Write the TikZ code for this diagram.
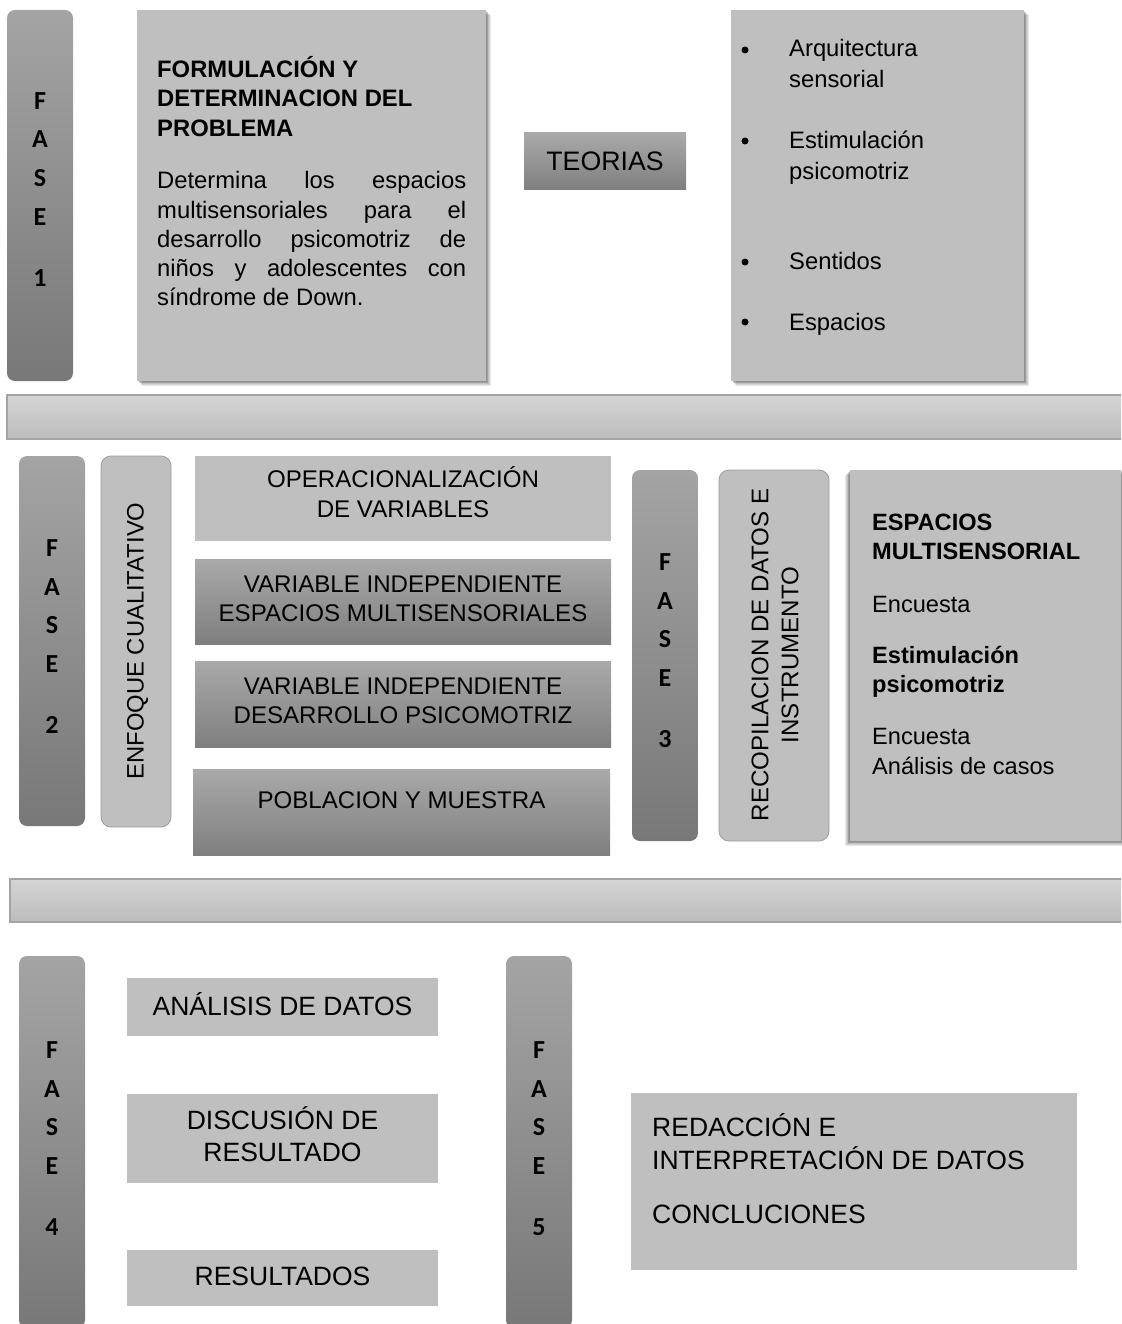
\documentclass[tikz,border=0pt]{standalone}
\usepackage{fontspec}
\setmainfont{Liberation Sans}
\newfontfamily\calfont{Carlito}[BoldFont={Carlito Bold}]
\usetikzlibrary{backgrounds}
\definecolor{bartop}{HTML}{A4A4A4}
\definecolor{barbot}{HTML}{787878}
\definecolor{boxgray}{HTML}{BFBFBF}
\definecolor{gradtop}{HTML}{A9A9A9}
\definecolor{gradbot}{HTML}{7F7F7F}
\definecolor{bandtop}{HTML}{D5D5D5}
\definecolor{bandbot}{HTML}{BCBCBC}
\definecolor{bandline}{HTML}{A3A3A3}
\definecolor{softline}{HTML}{9C9C9C}
\tikzset{
  shp/.style={anchor=north west, inner sep=0pt, outer sep=0pt},
  phasebar/.style={shp, rounded corners=8pt, top color=bartop, bottom color=barbot, draw=none},
  flatbox/.style={shp, fill=boxgray},
  gradbox/.style={shp, top color=gradtop, bottom color=gradbot},
  band/.style={shp, top color=bandtop, bottom color=bandbot, draw=bandline, line width=1.2pt},
  softbox/.style={shp, rounded corners=10pt, fill=boxgray, draw=softline, line width=0.8pt},
  shadowlayer/.style={fill=black, opacity=0.09},
  faseltr/.style={font=\calfont\bfseries\fontsize{26}{26}\selectfont, anchor=base, inner sep=0pt},
  tA/.style={font=\fontsize{23.8}{29.5}\selectfont, anchor=base west, inner sep=0pt},
  tAb/.style={tA, font=\fontsize{23.8}{29.5}\selectfont\bfseries},
  tE/.style={tA, font=\fontsize{23.6}{29}\selectfont},
  tEb/.style={tA, font=\fontsize{23.6}{29}\selectfont\bfseries},
  tC/.style={font=\fontsize{24.1}{30}\selectfont, anchor=base, inner sep=0pt},
  tD/.style={font=\fontsize{26.5}{32}\selectfont, anchor=base, inner sep=0pt},
  tDl/.style={tD, anchor=base west},
  bul/.style={circle, fill=black, minimum size=7pt, inner sep=0pt},
}
\newcommand\mkphase[6]{%
  \node[phasebar, minimum width=66pt, minimum height=#4pt] (#1) at (#2,#3) {};
  \foreach \L [count=\i from 0] in {F,A,S,E}
    \node[faseltr] (#1-\i) at ({#2+33},{#5+8.4+38.6*\i}) {\L};
  \node[faseltr] (#1-n) at ({#2+33},{#5+8.4+38.6*3+61}) {#6};
}
% soft shadow behind a node: #1 node name, #2 x direction (+1 right, -1 left)
\newcommand\softshadow[2]{%
  \begin{scope}[on background layer]
    \foreach \k in {1,...,6}
      \fill[shadowlayer] ([shift={({#2*\k*0.8},{\k*0.8})}]#1.north west) rectangle ([shift={({#2*\k*0.8},{\k*0.8})}]#1.south east);
  \end{scope}
}
\begin{document}
\begin{tikzpicture}[x=1pt, y=-1pt]
\useasboundingbox (0,0) rectangle (1121,1324);
\clip (0,0) rectangle (1121,1324);

% ---------- FASE 1 ----------
\mkphase{fase1}{7}{10}{371}{101}{1}
\node[flatbox, minimum width=349pt, minimum height=371pt] (form) at (137,10) {};
\softshadow{form}{1}
\node[tAb] (form-t1) at (157,77.5) {FORMULACIÓN Y};
\node[tAb] (form-t2) at (157,106.5) {DETERMINACION DEL};
\node[tAb] (form-t3) at (157,136.5) {PROBLEMA};
\node[tA] (form-b1) at (157,188.5) {\makebox[309pt][s]{Determina los espacios}};
\node[tA] (form-b2) at (157,218.5) {\makebox[309pt][s]{multisensoriales para el}};
\node[tA] (form-b3) at (157,247.5) {\makebox[309pt][s]{desarrollo psicomotriz de}};
\node[tA] (form-b4) at (157,276.5) {\makebox[309pt][s]{niños y adolescentes con}};
\node[tA] (form-b5) at (157,305.5) {síndrome de Down.};

\node[gradbox, minimum width=162pt, minimum height=57pt] (teo) at (524,133) {};
\node[tD, font=\fontsize{26.7}{32}\selectfont] (teo-t) at (605,170.6) {TEORIAS};

\node[flatbox, minimum width=293pt, minimum height=371pt] (teolist) at (731,10) {};
\softshadow{teolist}{1}
\node[bul] (bl1) at (745,50) {};
\node[bul] (bl2) at (745,141) {};
\node[bul] (bl3) at (745,262) {};
\node[bul] (bl4) at (745,322) {};
\node[tA] (li1a) at (789,56.5) {Arquitectura};
\node[tA] (li1b) at (789,87.5) {sensorial};
\node[tA] (li2a) at (789,148.5) {Estimulación};
\node[tA] (li2b) at (789,179.5) {psicomotriz};
\node[tA] (li3) at (789,269.5) {Sentidos};
\node[tA] (li4) at (789,330.5) {Espacios};

% ---------- band 1 ----------
\node[band, minimum width=1130pt, minimum height=44pt] (band1) at (7,395) {};

% ---------- FASE 2 ----------
\mkphase{fase2}{19}{456}{370}{548}{2}
\node[softbox, minimum width=70pt, minimum height=371pt] (enf) at (101,456) {};
\node[font=\fontsize{23.8}{29.5}\selectfont, rotate=90, inner sep=0pt] (enf-t) at (137.5,641) {ENFOQUE CUALITATIVO};

\node[flatbox, minimum width=416pt, minimum height=85pt] (oper) at (195,456) {};
\node[tC] (oper-t1) at (403,487.6) {OPERACIONALIZACIÓN};
\node[tC] (oper-t2) at (403,517.6) {DE VARIABLES};
\node[gradbox, minimum width=416pt, minimum height=85pt] (var1) at (195,559) {};
\node[tC] (var1-t1) at (403,592.6) {VARIABLE INDEPENDIENTE};
\node[tC] (var1-t2) at (403,621.6) {ESPACIOS MULTISENSORIALES};
\node[gradbox, minimum width=416pt, minimum height=86pt] (var2) at (195,661) {};
\node[tC] (var2-t1) at (403,694.6) {VARIABLE INDEPENDIENTE};
\node[tC] (var2-t2) at (403,723.6) {DESARROLLO PSICOMOTRIZ};
\node[gradbox, minimum width=417pt, minimum height=86pt] (pob) at (193,769) {};
\node[tC] (pob-t) at (401.5,808.6) {POBLACION Y MUESTRA};

% ---------- FASE 3 ----------
\mkphase{fase3}{632}{470}{371}{562}{3}
\node[softbox, minimum width=110pt, minimum height=371pt] (rec) at (719,470) {};
\node[font=\fontsize{24.1}{30}\selectfont, rotate=90, align=center, inner sep=0pt] (rec-t) at (775,655) {RECOPILACION DE DATOS E\\INSTRUMENTO};

\node[flatbox, minimum width=280pt, minimum height=371pt] (esp) at (850,470) {};
\softshadow{esp}{-1}
\node[tEb] (esp-t1) at (872,530.5) {ESPACIOS};
\node[tEb] (esp-t2) at (872,559.5) {MULTISENSORIAL};
\node[tE] (esp-t3) at (872,612.5) {Encuesta};
\node[tEb] (esp-t4) at (872,663.5) {Estimulación};
\node[tEb] (esp-t5) at (872,692.5) {psicomotriz};
\node[tE] (esp-t6) at (872,744.5) {Encuesta};
\node[tE] (esp-t7) at (872,774.5) {Análisis de casos};

% ---------- band 2 ----------
\node[band, minimum width=1130pt, minimum height=43pt] (band2) at (10,879) {};

% ---------- FASE 4 ----------
\mkphase{fase4}{19}{956}{372}{1050}{4}
\node[flatbox, minimum width=311pt, minimum height=58pt] (ana) at (127,978) {};
\node[tD] (ana-t) at (282.5,1015.5) {ANÁLISIS DE DATOS};
\node[flatbox, minimum width=311pt, minimum height=89pt] (dis) at (127,1094) {};
\node[tD] (dis-t1) at (282.5,1129.5) {DISCUSIÓN DE};
\node[tD] (dis-t2) at (282.5,1161.5) {RESULTADO};
\node[flatbox, minimum width=311pt, minimum height=56pt] (res) at (127,1250) {};
\node[tD] (res-t) at (282.5,1285.5) {RESULTADOS};

% ---------- FASE 5 ----------
\mkphase{fase5}{506}{956}{372}{1050}{5}
\node[flatbox, minimum width=446pt, minimum height=177pt] (red) at (631,1093) {};
\node[tDl] (red-t1) at (652,1136.5) {REDACCIÓN E};
\node[tDl] (red-t2) at (652,1169.5) {INTERPRETACIÓN DE DATOS};
\node[tDl] (red-t3) at (652,1223.5) {CONCLUCIONES};
\end{tikzpicture}
\end{document}
